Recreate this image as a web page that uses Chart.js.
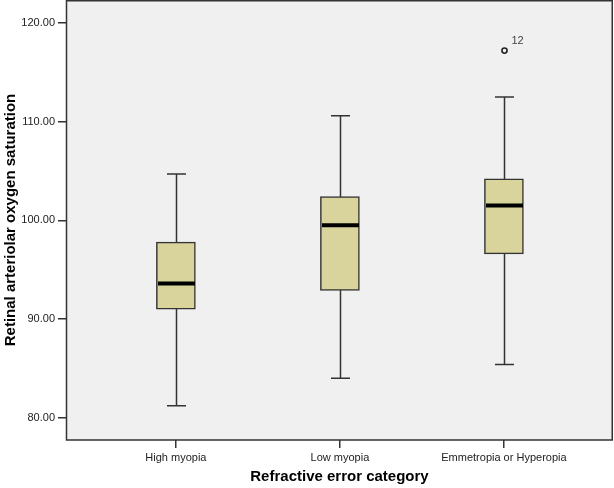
<!DOCTYPE html>
<html>
<head>
<meta charset="utf-8">
<script src="https://cdn.jsdelivr.net/npm/chart.js@4.4.1/dist/chart.umd.min.js"></script>
<style>
  html, body { margin: 0; padding: 0; background: #fff; }
  #wrap { width: 614px; height: 488px; }
</style>
</head>
<body>
<div id="wrap"><canvas id="chart" width="614" height="488"></canvas></div>
<script>
// box plot values
const categories = ['High myopia', 'Low myopia', 'Emmetropia or Hyperopia'];
const whiskerLow = [81.2, 84.0, 85.4];
const q1 = [91.0, 92.9, 96.6];
const median = [93.6, 99.5, 101.5];
const q3 = [97.8, 102.4, 104.2];
const whiskerHigh = [104.7, 110.6, 112.5];
// outliers: category index, value, case label
const outlierCat = [2];
const outlierVal = [117.2];
const outlierLabel = ['12'];
const yTicks = [80, 90, 100, 110, 120];

const AXIS = '#333333';
const BOX_FILL = '#d9d49b';
const FONT = "'Liberation Sans', Arial, sans-serif";

// plot background + frame
const frame = {
  id: 'frame',
  beforeDraw(chart) {
    const { ctx, chartArea: a } = chart;
    ctx.save();
    ctx.fillStyle = '#f0f0f0';
    ctx.fillRect(a.left, a.top, a.right - a.left, a.bottom - a.top);
    ctx.restore();
  },
  afterDraw(chart) {
    const { ctx, chartArea: a } = chart;
    ctx.save();
    ctx.strokeStyle = AXIS;
    ctx.lineWidth = 1.5;
    ctx.strokeRect(a.left + 0.5, a.top + 0.75, a.right - a.left - 1.25, a.bottom - a.top - 0.75);
    ctx.restore();
  }
};

// whiskers under the boxes, medians + outliers on top
const boxParts = {
  id: 'boxParts',
  beforeDatasetsDraw(chart) {
    const { ctx, scales: { x, y } } = chart;
    const cap = 19;
    ctx.save();
    ctx.strokeStyle = AXIS;
    ctx.lineWidth = 1.5;
    categories.forEach((c, i) => {
      const px = Math.round(x.getPixelForValue(i)) + 0.5;
      const lo = y.getPixelForValue(whiskerLow[i]);
      const hi = y.getPixelForValue(whiskerHigh[i]);
      ctx.beginPath();
      ctx.moveTo(px, lo); ctx.lineTo(px, hi);
      ctx.moveTo(px - cap / 2, lo); ctx.lineTo(px + cap / 2, lo);
      ctx.moveTo(px - cap / 2, hi); ctx.lineTo(px + cap / 2, hi);
      ctx.stroke();
    });
    ctx.restore();
  },
  afterDatasetsDraw(chart) {
    const { ctx, scales: { x, y } } = chart;
    const half = 19.5;
    ctx.save();
    ctx.strokeStyle = '#000';
    ctx.lineWidth = 4;
    categories.forEach((c, i) => {
      const px = Math.round(x.getPixelForValue(i)) + 0.5;
      const py = y.getPixelForValue(median[i]);
      ctx.beginPath();
      ctx.moveTo(px - half + 1, py); ctx.lineTo(px + half - 1, py);
      ctx.stroke();
    });
    ctx.lineWidth = 1.6;
    ctx.strokeStyle = '#222';
    ctx.fillStyle = '#444';
    ctx.font = '11px ' + FONT;
    ctx.textBaseline = 'middle';
    outlierVal.forEach((v, k) => {
      const px = Math.round(x.getPixelForValue(outlierCat[k])) + 0.5;
      const py = y.getPixelForValue(v);
      ctx.beginPath();
      ctx.arc(px, py, 2.6, 0, Math.PI * 2);
      ctx.stroke();
      ctx.fillText(outlierLabel[k], px + 7, py - 10);
    });
    ctx.restore();
  }
};

new Chart(document.getElementById('chart'), {
  type: 'bar',
  data: {
    datasets: [{
      data: categories.map((c, i) => ({ x: i, y: [q1[i], q3[i]] })),
      backgroundColor: BOX_FILL,
      borderColor: AXIS,
      borderWidth: 1.5,
      borderSkipped: false,
      barThickness: 39
    }]
  },
  options: {
    responsive: false,
    animation: false,
    layout: { padding: { top: 0, right: 1, left: 0, bottom: 0 } },
    plugins: { legend: { display: false }, tooltip: { enabled: false } },
    scales: {
      x: {
        type: 'linear',
        min: -0.67,
        max: 2.665,
        offset: false,
        grid: { offset: false, drawOnChartArea: false, drawTicks: true, tickLength: 8, tickColor: AXIS, lineWidth: 1.5 },
        border: { display: false },
        ticks: {
          stepSize: 1,
          includeBounds: false,
          autoSkip: false,
          maxRotation: 0,
          padding: 3,
          color: '#222',
          font: { family: FONT, size: 11 },
          callback: v => categories[v] !== undefined && Number.isInteger(v) ? categories[v] : ''
        },
        title: {
          display: true,
          text: 'Refractive error category',
          color: '#000',
          font: { family: FONT, size: 15, weight: 'bold' },
          padding: { top: 0, bottom: 2 }
        },
        afterFit(s) { s.height = 48; s.paddingLeft = 0; s.paddingRight = 0; }
      },
      y: {
        min: 77.74,
        max: 122.33,
        afterBuildTicks(s) { s.ticks = yTicks.map(v => ({ value: v })); },
        grid: { drawOnChartArea: false, drawTicks: true, tickLength: 8, tickColor: AXIS, lineWidth: 1.5 },
        border: { display: false },
        ticks: {
          padding: 3,
          color: '#222',
          font: { family: FONT, size: 11 },
          callback: v => v.toFixed(2)
        },
        title: {
          display: true,
          text: 'Retinal arteriolar oxygen saturation',
          color: '#000',
          font: { family: FONT, size: 15, weight: 'bold' },
          padding: { top: 2, bottom: 0 }
        },
        afterFit(s) { s.width = 66; s.paddingTop = 0; s.paddingBottom = 0; }
      }
    }
  },
  plugins: [frame, boxParts]
});
</script>
</body>
</html>
